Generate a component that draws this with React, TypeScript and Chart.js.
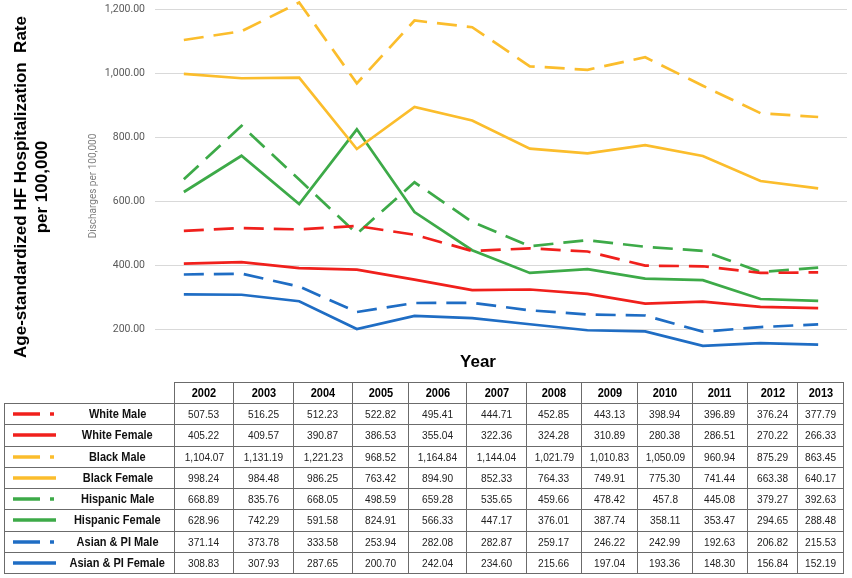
import React, { useEffect, useRef } from "react";
import { Chart, registerables } from "chart.js";

Chart.register(...registerables);

const years = ["2002", "2003", "2004", "2005", "2006", "2007", "2008", "2009", "2010", "2011", "2012", "2013"];
const yTicks = [200, 400, 600, 800, 1000, 1200];

const whiteMale = ["507.53", "516.25", "512.23", "522.82", "495.41", "444.71", "452.85", "443.13", "398.94", "396.89", "376.24", "377.79"];
const whiteFemale = ["405.22", "409.57", "390.87", "386.53", "355.04", "322.36", "324.28", "310.89", "280.38", "286.51", "270.22", "266.33"];
const blackMale = ["1,104.07", "1,131.19", "1,221.23", "968.52", "1,164.84", "1,144.04", "1,021.79", "1,010.83", "1,050.09", "960.94", "875.29", "863.45"];
const blackFemale = ["998.24", "984.48", "986.25", "763.42", "894.90", "852.33", "764.33", "749.91", "775.30", "741.44", "663.38", "640.17"];
const hispanicMale = ["668.89", "835.76", "668.05", "498.59", "659.28", "535.65", "459.66", "478.42", "457.8", "445.08", "379.27", "392.63"];
const hispanicFemale = ["628.96", "742.29", "591.58", "824.91", "566.33", "447.17", "376.01", "387.74", "358.11", "353.47", "294.65", "288.48"];
const asianMale = ["371.14", "373.78", "333.58", "253.94", "282.08", "282.87", "259.17", "246.22", "242.99", "192.63", "206.82", "215.53"];
const asianFemale = ["308.83", "307.93", "287.65", "200.70", "242.04", "234.60", "215.66", "197.04", "193.36", "148.30", "156.84", "152.19"];

const RED = "#f0201c";
const YELLOW = "#fbbd2c";
const GREEN = "#3daa48";
const BLUE = "#1f6dc4";

const series = [
  { name: "White Male", values: whiteMale, color: RED, dashed: true },
  { name: "White Female", values: whiteFemale, color: RED, dashed: false },
  { name: "Black Male", values: blackMale, color: YELLOW, dashed: true },
  { name: "Black Female", values: blackFemale, color: YELLOW, dashed: false },
  { name: "Hispanic Male", values: hispanicMale, color: GREEN, dashed: true },
  { name: "Hispanic Female", values: hispanicFemale, color: GREEN, dashed: false },
  { name: "Asian & PI Male", values: asianMale, color: BLUE, dashed: true },
  { name: "Asian & PI Female", values: asianFemale, color: BLUE, dashed: false },
];

const toNum = (s: string) => parseFloat(s.replace(/,/g, ""));

const colWidths = [59, 60, 59, 56, 58, 60, 55, 56, 55, 55, 50, 46];

function Swatch({ color, dashed }: { color: string; dashed: boolean }) {
  return (
    <svg width="56" height="8" style={{ display: "block" }}>
      {dashed ? (
        <>
          <line x1="8" y1="4" x2="35" y2="4" stroke={color} strokeWidth="3.5" />
          <line x1="45" y1="4" x2="49" y2="4" stroke={color} strokeWidth="3.5" />
        </>
      ) : (
        <line x1="8" y1="4" x2="51" y2="4" stroke={color} strokeWidth="3.5" />
      )}
    </svg>
  );
}

function Narrow({ children }: { children: React.ReactNode }) {
  return <span style={{ display: "inline-block", transform: "scaleX(0.88)", whiteSpace: "nowrap" }}>{children}</span>;
}

const zeroPad = (scale: any) => {
  scale.paddingTop = 0;
  scale.paddingBottom = 0;
  scale.paddingLeft = 0;
  scale.paddingRight = 0;
};

export default function App() {
  const canvasRef = useRef<HTMLCanvasElement | null>(null);

  useEffect(() => {
    const canvas = canvasRef.current;
    if (!canvas) return;
    const chart = new Chart(canvas, {
      type: "line",
      data: {
        labels: years,
        datasets: series.map((s) => ({
          label: s.name,
          data: s.values.map(toNum),
          borderColor: s.color,
          backgroundColor: s.color,
          borderWidth: 2.7,
          borderDash: s.dashed ? [20, 10] : [],
          pointRadius: 0,
          tension: 0,
          fill: false,
        })),
      },
      options: {
        animation: false,
        responsive: false,
        maintainAspectRatio: false,
        layout: { padding: { left: 85, right: 5, top: 0, bottom: 0 } },
        plugins: { legend: { display: false }, tooltip: { enabled: false } },
        scales: {
          x: {
            type: "category",
            offset: true,
            grid: { display: false },
            border: { display: false },
            ticks: { display: false },
            afterFit: (scale: any) => {
              scale.height = 0;
              zeroPad(scale);
            },
          },
          y: {
            min: 66.5,
            max: 1229,
            afterBuildTicks: (scale: any) => {
              scale.ticks = yTicks.map((v) => ({ value: v }));
            },
            afterFit: (scale: any) => {
              scale.width = 70;
              zeroPad(scale);
            },
            grid: { color: "#d9d9d9", lineWidth: 1, drawTicks: false },
            border: { display: false },
            ticks: {
              color: "#595959",
              padding: 10,
              font: { family: "Roboto, sans-serif", size: 10.5 },
              callback: (v: any) =>
                Number(v).toLocaleString("en-US", { minimumFractionDigits: 2, maximumFractionDigits: 2 }),
            },
            title: {
              display: true,
              text: "Discharges per 100,000",
              color: "#7f7f7f",
              font: { family: "Roboto, sans-serif", size: 10 },
              padding: { top: 2, bottom: 0 },
            },
          },
        },
      },
    });
    return () => chart.destroy();
  }, []);

  const cellBorder = "1px solid #6b6b6b";
  const font = "Liberation Sans, Arial, sans-serif";

  return (
    <div style={{ position: "fixed", left: 0, top: 0, width: 852, height: 578, background: "#fff", overflow: "hidden" }}>
      <canvas ref={canvasRef} width={852} height={372} style={{ position: "absolute", left: 0, top: 0 }} />
      <div
        style={{
          position: "absolute",
          left: 32 - 200,
          top: 187 - 22,
          width: 400,
          height: 44,
          transform: "rotate(-90deg)",
          textAlign: "center",
          fontFamily: font,
          fontWeight: "bold",
          fontSize: 17,
          lineHeight: "21px",
          color: "#000",
          whiteSpace: "pre",
        }}
      >
        {"Age-standardized HF Hospitalization  Rate\nper 100,000"}
      </div>
      <div
        style={{
          position: "absolute",
          left: 478 - 40,
          top: 362 - 11,
          width: 80,
          height: 22,
          lineHeight: "22px",
          textAlign: "center",
          fontFamily: font,
          fontWeight: "bold",
          fontSize: 17,
          color: "#000",
        }}
      >
        Year
      </div>
      <table
        style={{
          position: "absolute",
          left: 4,
          top: 382,
          borderCollapse: "collapse",
          fontFamily: font,
          fontSize: 11.5,
          color: "#222",
          tableLayout: "fixed",
        }}
      >
        <colgroup>
          <col style={{ width: 170 }} />
          {colWidths.map((w, i) => (
            <col key={i} style={{ width: w }} />
          ))}
        </colgroup>
        <tbody>
          <tr style={{ height: 21 }}>
            <td style={{ borderBottom: cellBorder, padding: 0 }} />
            {years.map((y) => (
              <td key={y} style={{ border: cellBorder, textAlign: "center", fontWeight: "bold", padding: 0, color: "#000", fontSize: 12.5 }}>
                <Narrow>{y}</Narrow>
              </td>
            ))}
          </tr>
          {series.map((s) => (
            <tr key={s.name} style={{ height: 21.25 }}>
              <td style={{ border: cellBorder, padding: 0 }}>
                <div style={{ display: "flex", alignItems: "center" }}>
                  <Swatch color={s.color} dashed={s.dashed} />
                  <div style={{ flex: 1, textAlign: "center", fontWeight: "bold", fontSize: 12.5, color: "#111" }}>
                    <Narrow>{s.name}</Narrow>
                  </div>
                </div>
              </td>
              {s.values.map((v, i) => (
                <td key={i} style={{ border: cellBorder, textAlign: "center", padding: 0 }}>
                  <Narrow>{v}</Narrow>
                </td>
              ))}
            </tr>
          ))}
        </tbody>
      </table>
    </div>
  );
}
